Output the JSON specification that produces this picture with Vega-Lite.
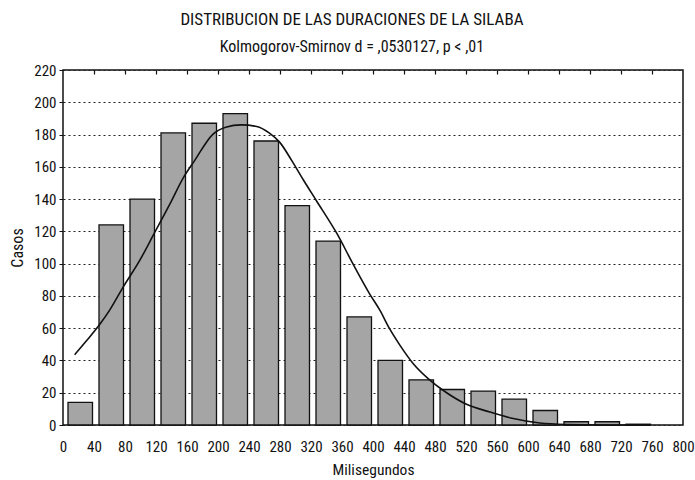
{
  "$schema": "https://vega.github.io/schema/vega-lite/v6.json",
  "width": 620,
  "height": 355,
  "autosize": {"type": "none"},
  "padding": {"left": 63, "top": 70, "right": 12, "bottom": 55},
  "title": {
    "text": "DISTRIBUCION DE LAS DURACIONES DE LA SILABA",
    "subtitle": "Kolmogorov-Smirnov d = ,0530127, p < ,01",
    "anchor": "middle",
    "frame": "bounds",
    "fontSize": 17,
    "fontWeight": "normal",
    "subtitleFontSize": 16,
    "subtitlePadding": 10,
    "offset": 11,
    "dy": 4,
    "color": "#111",
    "subtitleColor": "#111"
  },
  "config": {
    "font": "Liberation Sans Narrow, Roboto Condensed, Liberation Sans",
    "view": {"stroke": "#111", "strokeWidth": 1.5},
    "axis": {"labelColor": "#111", "titleColor": "#111", "titleFontWeight": "normal"}
  },
  "resolve": {"axis": {"x": "independent"}},
  "datasets": {
    "bins": [
      {"start": 0, "end": 40, "casos": 14},
      {"start": 40, "end": 80, "casos": 124},
      {"start": 80, "end": 120, "casos": 140},
      {"start": 120, "end": 160, "casos": 181},
      {"start": 160, "end": 200, "casos": 187},
      {"start": 200, "end": 240, "casos": 193},
      {"start": 240, "end": 280, "casos": 176},
      {"start": 280, "end": 320, "casos": 136},
      {"start": 320, "end": 360, "casos": 114},
      {"start": 360, "end": 400, "casos": 67},
      {"start": 400, "end": 440, "casos": 40},
      {"start": 440, "end": 480, "casos": 28},
      {"start": 480, "end": 520, "casos": 22},
      {"start": 520, "end": 560, "casos": 21},
      {"start": 560, "end": 600, "casos": 16},
      {"start": 600, "end": 640, "casos": 9},
      {"start": 640, "end": 680, "casos": 2},
      {"start": 680, "end": 720, "casos": 2},
      {"start": 720, "end": 760, "casos": 0.5}
    ],
    "curve": [
      {"ms": 15, "esperado": 43.5},
      {"ms": 30, "esperado": 52},
      {"ms": 48, "esperado": 62.7},
      {"ms": 60, "esperado": 71},
      {"ms": 77, "esperado": 85},
      {"ms": 99, "esperado": 102},
      {"ms": 118, "esperado": 119},
      {"ms": 138, "esperado": 137},
      {"ms": 155, "esperado": 153},
      {"ms": 170, "esperado": 164},
      {"ms": 193, "esperado": 180},
      {"ms": 210, "esperado": 184.5},
      {"ms": 230, "esperado": 186},
      {"ms": 250, "esperado": 185},
      {"ms": 266, "esperado": 181},
      {"ms": 280, "esperado": 175},
      {"ms": 295, "esperado": 164},
      {"ms": 310, "esperado": 152},
      {"ms": 327, "esperado": 139},
      {"ms": 353, "esperado": 119},
      {"ms": 374, "esperado": 100},
      {"ms": 396, "esperado": 81},
      {"ms": 409, "esperado": 71},
      {"ms": 421, "esperado": 60},
      {"ms": 434, "esperado": 50},
      {"ms": 452, "esperado": 38},
      {"ms": 473, "esperado": 28},
      {"ms": 495, "esperado": 20},
      {"ms": 520, "esperado": 13},
      {"ms": 551, "esperado": 8},
      {"ms": 581, "esperado": 4},
      {"ms": 615, "esperado": 1.2},
      {"ms": 650, "esperado": 0.3},
      {"ms": 700, "esperado": 0},
      {"ms": 757, "esperado": 0}
    ]
  },
  "layer": [
    {
      "data": {"name": "bins"},
      "mark": {"type": "bar", "fill": "#a5a5a5", "stroke": "#111", "strokeWidth": 1.3, "xOffset": 5, "x2Offset": -1.5},
      "encoding": {
        "x": {
          "field": "start", "type": "quantitative",
          "scale": {"domain": [0, 800], "nice": false, "zero": false},
          "axis": {
            "values": [0, 40, 80, 120, 160, 200, 240, 280, 320, 360, 400, 440, 480, 520, 560, 600, 640, 680, 720, 760, 800],
            "labelAngle": 0, "grid": false, "ticks": false, "domain": false,
            "labelFontSize": 15, "labelPadding": 14, "labelFlush": false, "labelOverlap": false,
            "title": "Milisegundos", "titleFontSize": 15.5, "titlePadding": 8
          }
        },
        "x2": {"field": "end"},
        "y": {
          "field": "casos", "type": "quantitative",
          "scale": {"domain": [0, 220], "nice": false},
          "axis": {
            "values": [0, 20, 40, 60, 80, 100, 120, 140, 160, 180, 200, 220],
            "grid": true, "gridDash": [2, 3], "gridColor": "#222", "gridWidth": 1,
            "domain": false, "tickSize": 4, "tickColor": "#111",
            "labelFontSize": 15, "labelPadding": 3, "labelOverlap": false,
            "title": "Casos", "titleFontSize": 16, "titlePadding": 8
          }
        },
        "y2": {"datum": 0}
      }
    },
    {
      "data": {"name": "curve"},
      "mark": {"type": "line", "color": "#111", "strokeWidth": 1.6, "interpolate": "monotone"},
      "encoding": {
        "x": {
          "field": "ms", "type": "quantitative",
          "axis": {
            "orient": "top", "offset": -4,
            "values": [40, 80, 120, 160, 200, 240, 280, 320, 360, 400, 440, 480, 520, 560, 600, 640, 680, 720, 760],
            "labels": false, "grid": false, "ticks": true, "tickSize": 4, "tickColor": "#111", "tickWidth": 1.2,
            "domain": false, "title": null
          }
        },
        "y": {
          "field": "esperado", "type": "quantitative",
          "axis": {
            "values": [0, 20, 40, 60, 80, 100, 120, 140, 160, 180, 200, 220],
            "grid": true, "gridDash": [2, 3], "gridColor": "#222", "gridWidth": 1,
            "domain": false, "tickSize": 4, "tickColor": "#111",
            "labelFontSize": 15, "labelPadding": 3, "labelOverlap": false,
            "title": "Casos", "titleFontSize": 16, "titlePadding": 8
          }
        }
      }
    }
  ]
}
